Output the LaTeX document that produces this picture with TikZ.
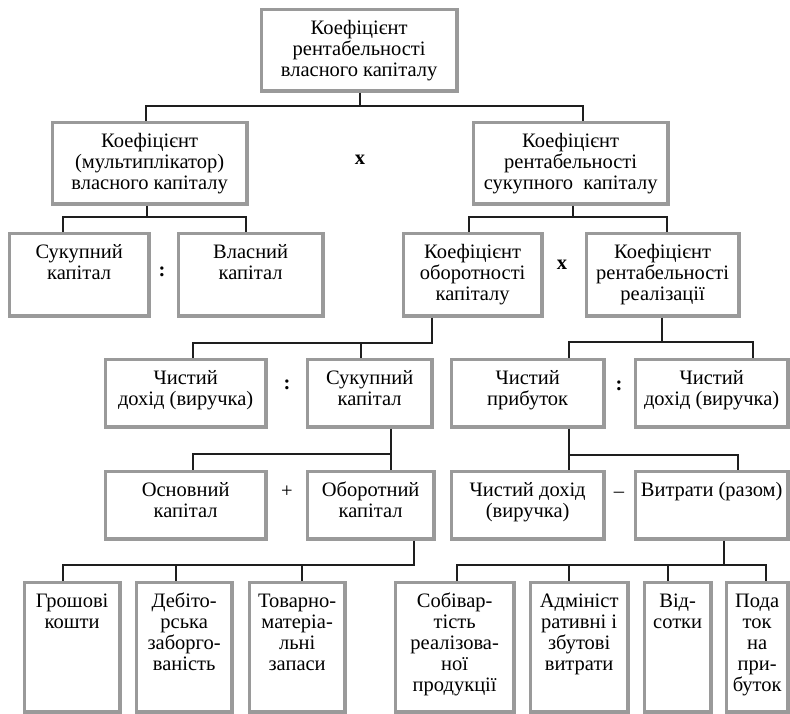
\documentclass[tikz,border=0pt]{standalone}
\usepackage{fontspec}
\setmainfont{Liberation Serif}
\definecolor{boxgray}{HTML}{9A9A9A}
\definecolor{linedark}{HTML}{1E1E1E}
% \cellnode{name}{x1}{y1}{x2}{y2}{text}: framed box given by its outer corners,
% text set from the top, centred line by line
\newcommand\cellnode[6]{%
  \node[cell] (#1) at ({#2+1.65},{#3+1.65})
    {\parbox[t][\dimexpr #5pt-#3pt-3.3pt\relax][t]{\dimexpr #4pt-#2pt-3.3pt\relax}%
      {\centering\rule{0pt}{25pt}#6\par}};}
\begin{document}
\fontsize{20.5}{21}\selectfont
\begin{tikzpicture}[x=1pt,y=-1pt,
  cell/.style={draw=boxgray, line width=3.3pt, inner sep=0pt, anchor=north west},
  conn/.style={draw=linedark, line width=1.6pt},
  op/.style={inner sep=0pt, font=\bfseries}]
\useasboundingbox (0,0) rectangle (790,714);

% ---- boxes ----
\cellnode{top}{258}{6}{457}{91}{Коефіцієнт\\рентабельності\\власного капіталу}
\cellnode{mult}{49}{119}{247}{204}{Коефіцієнт\\(мультиплікатор)\\власного капіталу}
\cellnode{rsk}{470}{119}{668}{204}{Коефіцієнт\\рентабельності\\сукупного\ \ капіталу}

\cellnode{sk1}{6}{230}{149}{316}{Сукупний\\капітал}
\cellnode{vk}{175}{230}{323}{316}{Власний\\капітал}
\cellnode{obk}{400}{230}{542}{316}{Коефіцієнт\\оборотності\\капіталу}
\cellnode{rr}{583}{230}{739}{316}{Коефіцієнт\\рентабельності\\реалізації}

\cellnode{chd1}{102}{356}{266}{427}{Чистий\\дохід (виручка)}
\cellnode{sk2}{304}{356}{432}{427}{Сукупний\\капітал}
\cellnode{chp}{448}{356}{604}{427}{Чистий\\прибуток}
\cellnode{chd2}{632}{356}{788}{427}{Чистий\\дохід (виручка)}

\cellnode{osn}{102}{468}{266}{539}{Основний\\капітал}
\cellnode{obr}{304}{468}{434}{539}{Оборотний\\капітал}
\cellnode{chd3}{448}{468}{604}{539}{Чистий дохід\\(виручка)}
\cellnode{vyt}{632}{468}{788}{539}{Витрати (разом)}

\cellnode{gk}{21}{579}{120}{712}{Грошові\\кошти}
\cellnode{db}{133}{579}{232}{712}{Дебіто-\\рська\\заборго-\\ваність}
\cellnode{tm}{246}{579}{345}{712}{Товарно-\\матеріа-\\льні\\запаси}
\cellnode{sob}{392}{579}{514}{712}{Собівар-\\тість\\реалізова-\\ної\\продукції}
\cellnode{adm}{527}{579}{628}{712}{Адмініст\\ративні і\\збутові\\витрати}
\cellnode{vid}{641}{579}{711}{712}{Від-\\сотки}
\cellnode{pod}{723}{579}{788}{712}{Пода\\ток\\на\\при-\\буток}

% ---- operators between sibling boxes ----
\node[op] (op1) at (360,160) {x};
\node[op] (op2) at (562,265) {x};
\node[op] (op3) at (162,272) {:};
\node[op] (op4) at (287,385) {:};
\node[op] (op5) at (619,386) {:};
\node[inner sep=0pt] (op6) at (287,492) {+};
\node[inner sep=0pt] (op7) at (619,495) {–};

% ---- tree connectors: stem, bus, drops ----
\draw[conn] (top.south -| 360,0) -- (360,106);
\draw[conn] (mult.north -| 146,0) -- (146,106) -| (rsk.north -| 583,0);

\draw[conn] (mult.south -| 147,0) -- (147,217);
\draw[conn] (sk1.north -| 63,0) -- (63,217) -| (vk.north -| 246,0);

\draw[conn] (rsk.south -| 573,0) -- (573,217);
\draw[conn] (obk.north -| 469,0) -- (469,217) -| (rr.north -| 667,0);

\draw[conn] (obk.south -| 432,0) -- (432,343) -| (chd1.north -| 193,0);
\draw[conn] (sk2.north -| 361,0) -- (361,343);

\draw[conn] (rr.south -| 662,0) -- (662,342);
\draw[conn] (chp.north -| 569,0) -- (569,342) -| (chd2.north -| 753,0);

\draw[conn] (sk2.south -| 391,0) -- (391,454);
\draw[conn] (osn.north -| 193,0) -- (193,454) -| (obr.north -| 391,0);

\draw[conn] (chp.south -| 569,0) -- (569,455);
\draw[conn] (chd3.north -| 569,0) -- (569,455) -| (vyt.north -| 738,0);

\draw[conn] (obr.south -| 414,0) -- (414,565) -| (gk.north -| 63,0);
\draw[conn] (db.north -| 176,0) -- (176,565);
\draw[conn] (tm.north -| 302,0) -- (302,565);

\draw[conn] (vyt.south -| 724,0) -- (724,565);
\draw[conn] (sob.north -| 457,0) -- (457,565) -| (pod.north -| 766,0);
\draw[conn] (adm.north -| 569,0) -- (569,565);
\draw[conn] (vid.north -| 668,0) -- (668,565);
\end{tikzpicture}
\end{document}
